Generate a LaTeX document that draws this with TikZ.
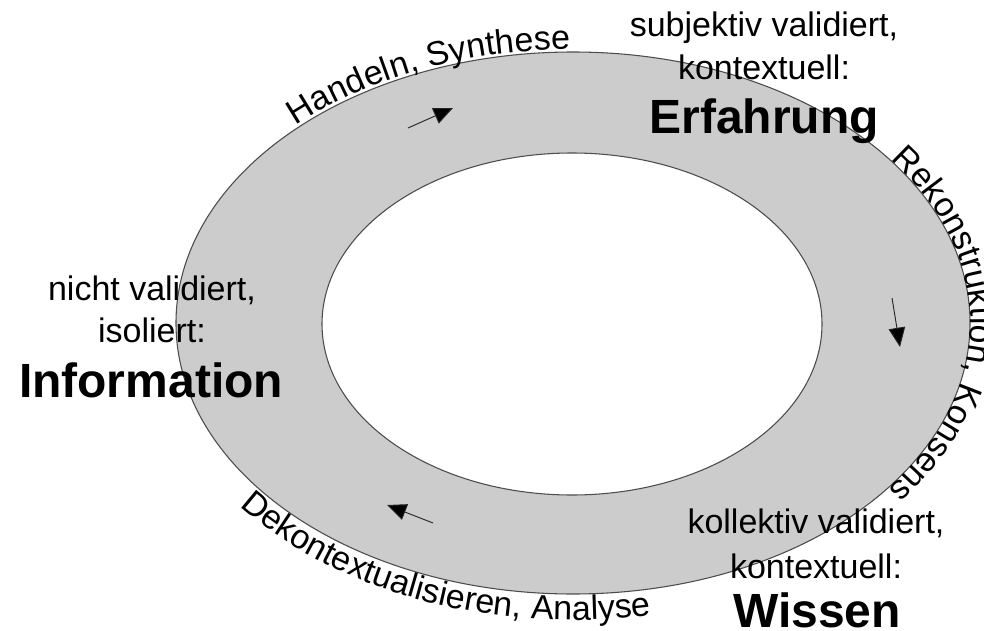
\documentclass[tikz,border=0pt]{standalone}
\usepackage{fontspec}
\setmainfont{Liberation Sans}
\usetikzlibrary{arrows.meta,decorations.text}
\begin{document}
\begin{tikzpicture}[x=0.75pt,y=-0.75pt,
  ring/.style={draw=black!70, line width=0.8pt},
  small/.style={font=\fontsize{25.5}{30}\selectfont, inner sep=0pt, anchor=base},
  big/.style={font=\bfseries\fontsize{36}{42}\selectfont, inner sep=0pt, anchor=base},
  flow/.style={draw=black!85, line width=0.7pt, -{Triangle[length=14.5pt,width=12.5pt,fill=black]}}]
\useasboundingbox (0,0) rectangle (984,631);
\path[fill=white] (0,0) rectangle (984,631);
% ring
\draw[ring, fill=black!20] (573,323) ellipse [x radius=397, y radius=271];
\draw[ring, fill=white] (572,324) ellipse [x radius=250, y radius=171];
% curved labels
\path[decorate, decoration={text along path, text align=left, raise=2pt,
  text={|\fontsize{25.5}{30}\selectfont|Handeln, Synthese}}]
  plot[domain=226:300, samples=90] ({573+397*cos(\x)},{323+271*sin(\x)});
\path[decorate, decoration={text along path, text align=left, raise=0.5pt,
  text={|\fontsize{25.5}{30}\selectfont|Rekonstruktion, Konsens}}]
  plot[domain=-37:55, samples=110] ({573+397*cos(\x)},{323+271*sin(\x)});
\path[decorate, decoration={text along path, text align=left, raise=0pt,
  text={|\fontsize{25.5}{30}\selectfont|Dekontextualisieren, Analyse}}]
  plot[domain=-142:-25, samples=130] ({573+423*cos(-\x)},{323+297*sin(-\x)});
% flow arrows
\coordinate (t1) at (408,128); \coordinate (t2) at (453,108);
\coordinate (r1) at (892,298); \coordinate (r2) at (900,347);
\coordinate (b1) at (433,523); \coordinate (b2) at (387,505);
\draw[flow] (t1) -- (t2);
\draw[flow] (r1) -- (r2);
\draw[flow] (b1) -- (b2);
% Erfahrung
\node[small] (e1) at (764,37) {subjektiv validiert,};
\node[small] (e2) at (764,80) {kontextuell:};
\node[big]   (e3) at (764,133) {Erfahrung};
% Information
\node[small] (i1) at (152,300) {nicht validiert,};
\node[small] (i2) at (152,342) {isoliert:};
\node[big]   (i3) at (151,397) {Information};
% Wissen
\node[small] (w1) at (816,533) {kollektiv validiert,};
\node[small] (w2) at (816,578) {kontextuell:};
\node[big]   (w3) at (817,627) {Wissen};
\end{tikzpicture}
\end{document}
